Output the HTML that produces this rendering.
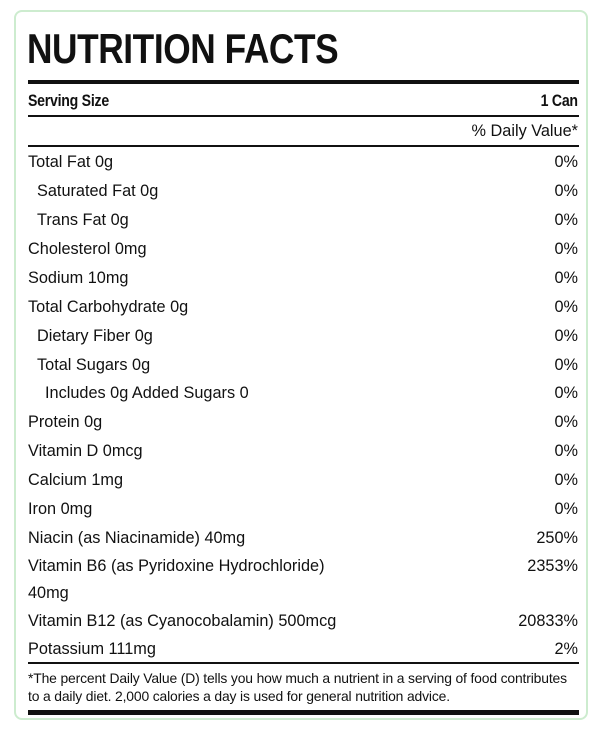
<!DOCTYPE html>
<html><head><meta charset="utf-8"><style>
html,body{margin:0;padding:0;background:#fff;width:600px;height:732px;overflow:hidden}
.box{position:absolute;left:14px;top:10px;width:574px;height:710px;border:2px solid #cdeccf;border-radius:8px;box-sizing:border-box}
.t{position:absolute;font-family:"Liberation Sans",sans-serif;color:#111;font-size:16.3px;line-height:18px;white-space:nowrap;letter-spacing:0px}
.r{right:22px;text-align:right}
.h{position:absolute;left:28px;width:551px;background:#111}
.title{position:absolute;left:27px;top:27px;font-family:"Liberation Sans",sans-serif;font-weight:bold;font-size:42px;line-height:44px;color:#111;transform:scaleX(0.84);transform-origin:left;letter-spacing:-0.5px}
.b{font-weight:bold;font-size:17px;transform:scaleX(0.83);letter-spacing:-0.3px}
.bl{transform-origin:left}
.br{transform-origin:right}
.f{font-size:13.9px;letter-spacing:-0.15px}
</style></head><body>
<div class="box"></div>
<div class="title">NUTRITION FACTS</div>
<div class="h" style="top:80px;height:4px"></div>
<div class="t b bl" style="left:28px;top:92px">Serving Size</div>
<div class="t b r br" style="top:92px">1 Can</div>
<div class="h" style="top:115px;height:2px"></div>
<div class="t r" style="top:122px">% Daily Value*</div>
<div class="h" style="top:145px;height:2px"></div>
<div class="t" style="left:28px;top:153px">Total Fat 0g</div><div class="t r" style="top:153px">0%</div>
<div class="t" style="left:37px;top:182px">Saturated Fat 0g</div><div class="t r" style="top:182px">0%</div>
<div class="t" style="left:37px;top:211px">Trans Fat 0g</div><div class="t r" style="top:211px">0%</div>
<div class="t" style="left:28px;top:240px">Cholesterol 0mg</div><div class="t r" style="top:240px">0%</div>
<div class="t" style="left:28px;top:269px">Sodium 10mg</div><div class="t r" style="top:269px">0%</div>
<div class="t" style="left:28px;top:298px">Total Carbohydrate 0g</div><div class="t r" style="top:298px">0%</div>
<div class="t" style="left:37px;top:327px">Dietary Fiber 0g</div><div class="t r" style="top:327px">0%</div>
<div class="t" style="left:37px;top:356px">Total Sugars 0g</div><div class="t r" style="top:356px">0%</div>
<div class="t" style="left:45px;top:384px">Includes 0g Added Sugars 0</div><div class="t r" style="top:384px">0%</div>
<div class="t" style="left:28px;top:413px">Protein 0g</div><div class="t r" style="top:413px">0%</div>
<div class="t" style="left:28px;top:442px">Vitamin D 0mcg</div><div class="t r" style="top:442px">0%</div>
<div class="t" style="left:28px;top:471px">Calcium 1mg</div><div class="t r" style="top:471px">0%</div>
<div class="t" style="left:28px;top:500px">Iron 0mg</div><div class="t r" style="top:500px">0%</div>
<div class="t" style="left:28px;top:529px">Niacin (as Niacinamide) 40mg</div><div class="t r" style="top:529px">250%</div>
<div class="t" style="left:28px;top:557px">Vitamin B6 (as Pyridoxine Hydrochloride)</div><div class="t r" style="top:557px">2353%</div>
<div class="t" style="left:28px;top:584px">40mg</div>
<div class="t" style="left:28px;top:612px">Vitamin B12 (as Cyanocobalamin) 500mcg</div><div class="t r" style="top:612px">20833%</div>
<div class="t" style="left:28px;top:640px">Potassium 111mg</div><div class="t r" style="top:640px">2%</div>
<div class="h" style="top:662px;height:2px"></div>
<div class="t f" style="left:28px;top:669px">*The percent Daily Value (D) tells you how much a nutrient in a serving of food contributes</div>
<div class="t f" style="left:28px;top:687px">to a daily diet. 2,000 calories a day is used for general nutrition advice.</div>
<div class="h" style="top:710px;height:5px"></div>
</body></html>
